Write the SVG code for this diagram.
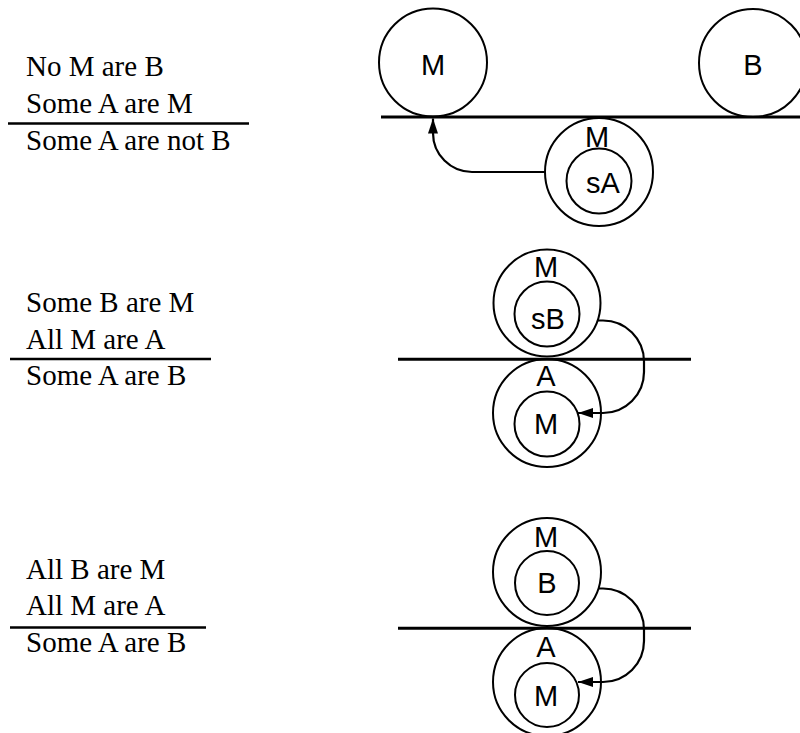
<svg xmlns="http://www.w3.org/2000/svg" width="800" height="733" viewBox="0 0 800 733">
<style>
.c{fill:none;stroke:#000;stroke-width:2}
.bar{stroke:#000;stroke-width:3}
.ul{stroke:#000;stroke-width:2.5}
.s{font-family:"Liberation Serif","Times New Roman",serif;font-size:29px;fill:#000}
.l{font-family:"Liberation Sans",Arial,sans-serif;font-size:29px;fill:#000;text-anchor:middle}
.k{fill:none;stroke:#000;stroke-width:2.2}
</style>
<defs>
<marker id="ah" markerUnits="userSpaceOnUse" markerWidth="15" markerHeight="10" refX="15" refY="5" orient="auto">
<path d="M0,0 L15,5 L0,10 z" fill="#000"/>
</marker>
</defs>
<rect width="800" height="733" fill="#fff"/>

<g id="syllogism1">
<text class="s" x="26" y="76">No M are B</text>
<text class="s" x="26" y="113">Some A are M</text>
<line class="ul" x1="8" y1="123.5" x2="249" y2="123.5"/>
<text class="s" x="26" y="150">Some A are not B</text>
</g>
<g id="syllogism2">
<text class="s" x="26" y="312">Some B are M</text>
<text class="s" x="26" y="348.5">All M are A</text>
<line class="ul" x1="10" y1="359" x2="211" y2="359"/>
<text class="s" x="26" y="385">Some A are B</text>
</g>
<g id="syllogism3">
<text class="s" x="26" y="578.5">All B are M</text>
<text class="s" x="26" y="615">All M are A</text>
<line class="ul" x1="10" y1="627.5" x2="206" y2="627.5"/>
<text class="s" x="26" y="652">Some A are B</text>
</g>

<g id="lines">
<line class="bar" x1="381" y1="117" x2="800" y2="117"/>
<line class="bar" x1="398" y1="359.3" x2="691" y2="359.3"/>
<line class="bar" x1="398" y1="628.3" x2="691" y2="628.3"/>
</g>

<g id="p1-M">
<circle class="c" cx="433" cy="62.5" r="54"/>
<text class="l" x="433" y="74.5">M</text>
</g>
<g id="p1-B">
<circle class="c" cx="753" cy="63" r="54"/>
<text class="l" x="753" y="74.5">B</text>
</g>
<g id="p1-M2">
<circle class="c" cx="599" cy="172" r="54"/>
<text class="l" x="597" y="147">M</text>
</g>
<g id="p1-sA">
<circle class="c" cx="599" cy="181" r="32.5"/>
<text class="l" x="603" y="193">sA</text>
</g>

<g id="p2-M">
<circle class="c" cx="547" cy="303" r="53.5"/>
<text class="l" x="546" y="277">M</text>
</g>
<g id="p2-sB">
<circle class="c" cx="547" cy="314" r="32.5"/>
<text class="l" x="548" y="328.5">sB</text>
</g>
<g id="p2-A">
<circle class="c" cx="547" cy="413" r="54"/>
<text class="l" x="546" y="385.5">A</text>
</g>
<g id="p2-M2">
<circle class="c" cx="547" cy="424" r="32.5"/>
<text class="l" x="546" y="434">M</text>
</g>

<g id="p3-M">
<circle class="c" cx="547" cy="572" r="54"/>
<text class="l" x="546" y="546.5">M</text>
</g>
<g id="p3-B">
<circle class="c" cx="547" cy="583" r="32"/>
<text class="l" x="547" y="593">B</text>
</g>
<g id="p3-A">
<circle class="c" cx="547" cy="682" r="54"/>
<text class="l" x="546" y="656.5">A</text>
</g>
<g id="p3-M2">
<circle class="c" cx="547" cy="695" r="32"/>
<text class="l" x="546" y="705.5">M</text>
</g>

<g id="connectors">
<path class="k" d="M545,172 L472,172 A39,39 0 0 1 433,133 L433,118.5" marker-end="url(#ah)"/>
<path class="k" d="M598,320.5 L603,320.5 A41,41 0 0 1 644,361.5 L644,372 A41,41 0 0 1 603,413 L578,413" marker-end="url(#ah)"/>
<path class="k" d="M598,588.5 L603,588.5 A41,41 0 0 1 644,629.5 L644,641 A41,41 0 0 1 603,682 L578,682" marker-end="url(#ah)"/>
</g>
</svg>
